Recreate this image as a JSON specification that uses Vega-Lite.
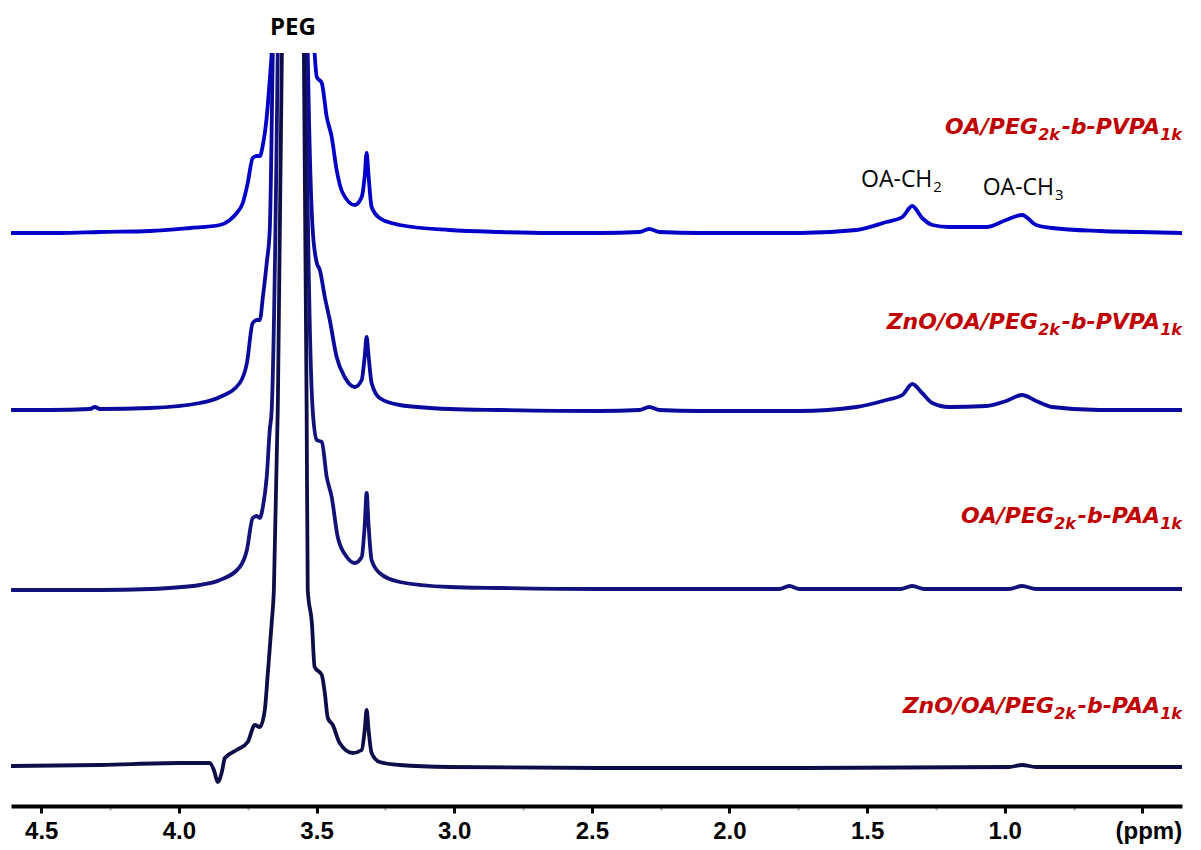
{
  "$schema": "https://vega.github.io/schema/vega-lite/v6.json",
  "width": 1171,
  "height": 753,
  "autosize": {"type": "none"},
  "padding": {"left": 11, "top": 53, "right": 19, "bottom": 44},
  "background": "white",
  "config": {"view": {"stroke": null}},
  "datasets": {
    "spectra": [
      {"trace":"t1","ppm":4.606,"y":573},{"trace":"t1","ppm":4.432,"y":573},{"trace":"t1","ppm":4.287,"y":574},{"trace":"t1","ppm":4.105,"y":575},{"trace":"t1","ppm":3.960,"y":578},{"trace":"t1","ppm":3.851,"y":581},{"trace":"t1","ppm":3.815,"y":586},{"trace":"t1","ppm":3.790,"y":593},{"trace":"t1","ppm":3.768,"y":603},{"trace":"t1","ppm":3.750,"y":623},{"trace":"t1","ppm":3.732,"y":648},{"trace":"t1","ppm":3.717,"y":650},{"trace":"t1","ppm":3.706,"y":650},{"trace":"t1","ppm":3.695,"y":661},{"trace":"t1","ppm":3.681,"y":689},{"trace":"t1","ppm":3.670,"y":726},{"trace":"t1","ppm":3.663,"y":753},{"trace":"t1","ppm":3.586,"y":2200},{"trace":"t1","ppm":3.507,"y":753},{"trace":"t1","ppm":3.499,"y":729},{"trace":"t1","ppm":3.481,"y":723},{"trace":"t1","ppm":3.463,"y":689},{"trace":"t1","ppm":3.445,"y":669},{"trace":"t1","ppm":3.427,"y":636},{"trace":"t1","ppm":3.405,"y":613},{"trace":"t1","ppm":3.361,"y":601},{"trace":"t1","ppm":3.336,"y":609},{"trace":"t1","ppm":3.325,"y":630},{"trace":"t1","ppm":3.318,"y":653},{"trace":"t1","ppm":3.311,"y":630},{"trace":"t1","ppm":3.300,"y":599},{"trace":"t1","ppm":3.271,"y":588},{"trace":"t1","ppm":3.198,"y":581},{"trace":"t1","ppm":3.017,"y":576},{"trace":"t1","ppm":2.835,"y":574},{"trace":"t1","ppm":2.654,"y":573},{"trace":"t1","ppm":2.472,"y":573},{"trace":"t1","ppm":2.327,"y":574},{"trace":"t1","ppm":2.291,"y":577},{"trace":"t1","ppm":2.254,"y":574},{"trace":"t1","ppm":2.109,"y":573},{"trace":"t1","ppm":1.746,"y":573},{"trace":"t1","ppm":1.539,"y":576},{"trace":"t1","ppm":1.430,"y":584},{"trace":"t1","ppm":1.372,"y":589},{"trace":"t1","ppm":1.336,"y":600},{"trace":"t1","ppm":1.300,"y":588},{"trace":"t1","ppm":1.263,"y":581},{"trace":"t1","ppm":1.202,"y":579},{"trace":"t1","ppm":1.067,"y":579},{"trace":"t1","ppm":0.995,"y":586},{"trace":"t1","ppm":0.937,"y":591},{"trace":"t1","ppm":0.886,"y":581},{"trace":"t1","ppm":0.828,"y":578},{"trace":"t1","ppm":0.657,"y":575},{"trace":"t1","ppm":0.512,"y":574},{"trace":"t1","ppm":0.356,"y":573},

      {"trace":"t2","ppm":4.606,"y":396},{"trace":"t2","ppm":4.468,"y":396},{"trace":"t2","ppm":4.323,"y":397},{"trace":"t2","ppm":4.305,"y":399},{"trace":"t2","ppm":4.287,"y":397},{"trace":"t2","ppm":4.105,"y":398},{"trace":"t2","ppm":3.924,"y":403},{"trace":"t2","ppm":3.851,"y":409},{"trace":"t2","ppm":3.779,"y":423},{"trace":"t2","ppm":3.753,"y":443},{"trace":"t2","ppm":3.732,"y":483},{"trace":"t2","ppm":3.717,"y":486},{"trace":"t2","ppm":3.706,"y":486},{"trace":"t2","ppm":3.695,"y":509},{"trace":"t2","ppm":3.681,"y":543},{"trace":"t2","ppm":3.670,"y":576},{"trace":"t2","ppm":3.659,"y":753},{"trace":"t2","ppm":3.586,"y":2600},{"trace":"t2","ppm":3.532,"y":753},{"trace":"t2","ppm":3.514,"y":576},{"trace":"t2","ppm":3.499,"y":543},{"trace":"t2","ppm":3.488,"y":536},{"trace":"t2","ppm":3.470,"y":509},{"trace":"t2","ppm":3.452,"y":486},{"trace":"t2","ppm":3.427,"y":449},{"trace":"t2","ppm":3.398,"y":429},{"trace":"t2","ppm":3.361,"y":419},{"trace":"t2","ppm":3.336,"y":426},{"trace":"t2","ppm":3.325,"y":450},{"trace":"t2","ppm":3.318,"y":469},{"trace":"t2","ppm":3.311,"y":450},{"trace":"t2","ppm":3.300,"y":423},{"trace":"t2","ppm":3.271,"y":408},{"trace":"t2","ppm":3.198,"y":401},{"trace":"t2","ppm":3.017,"y":397},{"trace":"t2","ppm":2.835,"y":396},{"trace":"t2","ppm":2.472,"y":395},{"trace":"t2","ppm":2.327,"y":396},{"trace":"t2","ppm":2.291,"y":399},{"trace":"t2","ppm":2.254,"y":396},{"trace":"t2","ppm":2.109,"y":395},{"trace":"t2","ppm":1.746,"y":395},{"trace":"t2","ppm":1.539,"y":399},{"trace":"t2","ppm":1.430,"y":406},{"trace":"t2","ppm":1.372,"y":411},{"trace":"t2","ppm":1.336,"y":422},{"trace":"t2","ppm":1.300,"y":413},{"trace":"t2","ppm":1.263,"y":403},{"trace":"t2","ppm":1.202,"y":399},{"trace":"t2","ppm":1.067,"y":400},{"trace":"t2","ppm":0.995,"y":405},{"trace":"t2","ppm":0.937,"y":411},{"trace":"t2","ppm":0.886,"y":405},{"trace":"t2","ppm":0.828,"y":399},{"trace":"t2","ppm":0.657,"y":396},{"trace":"t2","ppm":0.356,"y":396},

      {"trace":"t3","ppm":4.606,"y":216},{"trace":"t3","ppm":4.287,"y":216},{"trace":"t3","ppm":4.105,"y":217},{"trace":"t3","ppm":3.924,"y":221},{"trace":"t3","ppm":3.851,"y":226},{"trace":"t3","ppm":3.779,"y":239},{"trace":"t3","ppm":3.753,"y":256},{"trace":"t3","ppm":3.732,"y":288},{"trace":"t3","ppm":3.717,"y":290},{"trace":"t3","ppm":3.706,"y":288},{"trace":"t3","ppm":3.695,"y":299},{"trace":"t3","ppm":3.681,"y":329},{"trace":"t3","ppm":3.670,"y":376},{"trace":"t3","ppm":3.663,"y":396},{"trace":"t3","ppm":3.641,"y":753},{"trace":"t3","ppm":3.586,"y":3000},{"trace":"t3","ppm":3.539,"y":753},{"trace":"t3","ppm":3.514,"y":396},{"trace":"t3","ppm":3.499,"y":366},{"trace":"t3","ppm":3.481,"y":364},{"trace":"t3","ppm":3.463,"y":329},{"trace":"t3","ppm":3.445,"y":309},{"trace":"t3","ppm":3.423,"y":269},{"trace":"t3","ppm":3.390,"y":249},{"trace":"t3","ppm":3.361,"y":243},{"trace":"t3","ppm":3.336,"y":249},{"trace":"t3","ppm":3.325,"y":281},{"trace":"t3","ppm":3.318,"y":313},{"trace":"t3","ppm":3.311,"y":281},{"trace":"t3","ppm":3.300,"y":246},{"trace":"t3","ppm":3.271,"y":233},{"trace":"t3","ppm":3.198,"y":224},{"trace":"t3","ppm":3.017,"y":219},{"trace":"t3","ppm":2.835,"y":218},{"trace":"t3","ppm":2.472,"y":217},{"trace":"t3","ppm":1.819,"y":217},{"trace":"t3","ppm":1.782,"y":220},{"trace":"t3","ppm":1.746,"y":217},{"trace":"t3","ppm":1.379,"y":217},{"trace":"t3","ppm":1.336,"y":220},{"trace":"t3","ppm":1.292,"y":217},{"trace":"t3","ppm":0.984,"y":217},{"trace":"t3","ppm":0.937,"y":220},{"trace":"t3","ppm":0.886,"y":217},{"trace":"t3","ppm":0.356,"y":217},

      {"trace":"t4","ppm":4.606,"y":40},{"trace":"t4","ppm":4.287,"y":41},{"trace":"t4","ppm":3.997,"y":43},{"trace":"t4","ppm":3.888,"y":43},{"trace":"t4","ppm":3.873,"y":36},{"trace":"t4","ppm":3.859,"y":24},{"trace":"t4","ppm":3.844,"y":34},{"trace":"t4","ppm":3.833,"y":48},{"trace":"t4","ppm":3.790,"y":56},{"trace":"t4","ppm":3.750,"y":64},{"trace":"t4","ppm":3.724,"y":81},{"trace":"t4","ppm":3.706,"y":79},{"trace":"t4","ppm":3.688,"y":96},{"trace":"t4","ppm":3.677,"y":133},{"trace":"t4","ppm":3.663,"y":183},{"trace":"t4","ppm":3.655,"y":216},{"trace":"t4","ppm":3.641,"y":396},{"trace":"t4","ppm":3.626,"y":753},{"trace":"t4","ppm":3.586,"y":3500},{"trace":"t4","ppm":3.546,"y":753},{"trace":"t4","ppm":3.536,"y":396},{"trace":"t4","ppm":3.532,"y":216},{"trace":"t4","ppm":3.517,"y":183},{"trace":"t4","ppm":3.507,"y":139},{"trace":"t4","ppm":3.481,"y":131},{"trace":"t4","ppm":3.470,"y":113},{"trace":"t4","ppm":3.459,"y":88},{"trace":"t4","ppm":3.441,"y":81},{"trace":"t4","ppm":3.416,"y":63},{"trace":"t4","ppm":3.369,"y":53},{"trace":"t4","ppm":3.336,"y":56},{"trace":"t4","ppm":3.325,"y":76},{"trace":"t4","ppm":3.318,"y":96},{"trace":"t4","ppm":3.311,"y":76},{"trace":"t4","ppm":3.300,"y":53},{"trace":"t4","ppm":3.271,"y":44},{"trace":"t4","ppm":3.198,"y":41},{"trace":"t4","ppm":3.017,"y":39},{"trace":"t4","ppm":2.472,"y":38},{"trace":"t4","ppm":1.746,"y":38},{"trace":"t4","ppm":0.984,"y":39},{"trace":"t4","ppm":0.937,"y":41},{"trace":"t4","ppm":0.886,"y":39},{"trace":"t4","ppm":0.356,"y":39}
    ],
    "samples": [
      {"prefix":"OA/PEG","sub1":"2k","middle":"-b-PVPA","sub2":"1k","group":"PVPA","ppm":0.356,"y":672},
      {"prefix":"ZnO/OA/PEG","sub1":"2k","middle":"-b-PVPA","sub2":"1k","group":"PVPA","ppm":0.356,"y":477},
      {"prefix":"OA/PEG","sub1":"2k","middle":"-b-PAA","sub2":"1k","group":"PAA","ppm":0.356,"y":283},
      {"prefix":"ZnO/OA/PEG","sub1":"2k","middle":"-b-PAA","sub2":"1k","group":"PAA","ppm":0.356,"y":93}
    ],
    "peaks": [
      {"text":"OA-CH","sub":"2","ppm":1.263,"y":619},
      {"text":"OA-CH","sub":"3","ppm":0.821,"y":611}
    ],
    "main": [
      {"text":"PEG","ppm":3.586,"y":771}
    ]
  },
  "layer": [
    {
      "data": {"name": "spectra"},
      "mark": {"type": "line", "clip": true, "strokeWidth": 3.8, "interpolate": "monotone", "strokeJoin": "round", "strokeCap": "round"},
      "encoding": {
        "x": {
          "field": "ppm", "type": "quantitative",
          "scale": {"domain": [0.356, 4.61], "reverse": true, "nice": false, "zero": false},
          "axis": {
            "title": null,
            "values": [4.5,4.25,4,3.75,3.5,3.25,3,2.75,2.5,2.25,2,1.75,1.5,1.25,1,0.75,0.5],
            "labelExpr": "datum.value == 0.5 ? '(ppm)' : ((datum.value * 2) % 1 == 0 ? format(datum.value, '.1f') : '')",
            "labelFont": "Liberation Sans",
            "labelFontWeight": "bold",
            "labelFontSize": 24,
            "labelColor": "black",
            "labelPadding": 6,
            "labelOverlap": false,
            "labelBound": false,
            "labelOffset": {"condition": {"test": "datum.value == 0.5", "value": 6}, "value": 0},
            "domainColor": "black",
            "domainWidth": 4,
            "grid": false,
            "tickColor": {"condition": {"test": "(datum.value * 2) % 1 != 0", "value": "#aaaaaa"}, "value": "black"},
            "tickWidth": {"condition": {"test": "(datum.value * 2) % 1 != 0", "value": 2}, "value": 3},
            "tickSize": {"condition": {"test": "(datum.value * 2) % 1 != 0", "value": 4}, "value": 7}
          }
        },
        "y": {
          "field": "y", "type": "quantitative",
          "scale": {"domain": [0, 753], "nice": false, "zero": false},
          "axis": null
        },
        "color": {
          "field": "trace", "type": "nominal",
          "scale": {"domain": ["t1","t2","t3","t4"], "range": ["#0000c8","#0a0a9e","#12127a","#0d0d48"]},
          "legend": null
        }
      }
    },
    {
      "data": {"name": "samples"},
      "mark": {"type": "text", "align": "right", "baseline": "alphabetic", "dy": 6, "font": "DejaVu Sans", "fontWeight": "bold", "fontStyle": "italic", "fontSize": 16, "color": "#c00000"},
      "encoding": {
        "x": {"field": "ppm", "type": "quantitative"},
        "y": {"field": "y", "type": "quantitative"},
        "text": {"field": "sub2"}
      }
    },
    {
      "data": {"name": "samples"},
      "mark": {"type": "text", "align": "right", "baseline": "alphabetic", "dx": -22, "font": "DejaVu Sans", "fontWeight": "bold", "fontStyle": "italic", "fontSize": 22, "color": "#c00000"},
      "encoding": {
        "x": {"field": "ppm", "type": "quantitative"},
        "y": {"field": "y", "type": "quantitative"},
        "text": {"field": "middle"}
      }
    },
    {
      "data": {"name": "samples"},
      "transform": [{"filter": "datum.group == 'PVPA'"}],
      "mark": {"type": "text", "align": "right", "baseline": "alphabetic", "dx": -122, "dy": 6, "font": "DejaVu Sans", "fontWeight": "bold", "fontStyle": "italic", "fontSize": 16, "color": "#c00000"},
      "encoding": {
        "x": {"field": "ppm", "type": "quantitative"},
        "y": {"field": "y", "type": "quantitative"},
        "text": {"field": "sub1"}
      }
    },
    {
      "data": {"name": "samples"},
      "transform": [{"filter": "datum.group == 'PAA'"}],
      "mark": {"type": "text", "align": "right", "baseline": "alphabetic", "dx": -106, "dy": 6, "font": "DejaVu Sans", "fontWeight": "bold", "fontStyle": "italic", "fontSize": 16, "color": "#c00000"},
      "encoding": {
        "x": {"field": "ppm", "type": "quantitative"},
        "y": {"field": "y", "type": "quantitative"},
        "text": {"field": "sub1"}
      }
    },
    {
      "data": {"name": "samples"},
      "transform": [{"filter": "datum.group == 'PVPA'"}],
      "mark": {"type": "text", "align": "right", "baseline": "alphabetic", "dx": -144, "font": "DejaVu Sans", "fontWeight": "bold", "fontStyle": "italic", "fontSize": 22, "color": "#c00000"},
      "encoding": {
        "x": {"field": "ppm", "type": "quantitative"},
        "y": {"field": "y", "type": "quantitative"},
        "text": {"field": "prefix"}
      }
    },
    {
      "data": {"name": "samples"},
      "transform": [{"filter": "datum.group == 'PAA'"}],
      "mark": {"type": "text", "align": "right", "baseline": "alphabetic", "dx": -128, "font": "DejaVu Sans", "fontWeight": "bold", "fontStyle": "italic", "fontSize": 22, "color": "#c00000"},
      "encoding": {
        "x": {"field": "ppm", "type": "quantitative"},
        "y": {"field": "y", "type": "quantitative"},
        "text": {"field": "prefix"}
      }
    },
    {
      "data": {"name": "peaks"},
      "mark": {"type": "text", "align": "right", "baseline": "alphabetic", "font": "Open Sans", "fontSize": 23, "color": "black"},
      "encoding": {
        "x": {"field": "ppm", "type": "quantitative"},
        "y": {"field": "y", "type": "quantitative"},
        "text": {"field": "text"}
      }
    },
    {
      "data": {"name": "peaks"},
      "mark": {"type": "text", "align": "left", "baseline": "alphabetic", "dx": 1, "dy": 5, "font": "Open Sans", "fontSize": 15, "color": "black"},
      "encoding": {
        "x": {"field": "ppm", "type": "quantitative"},
        "y": {"field": "y", "type": "quantitative"},
        "text": {"field": "sub"}
      }
    },
    {
      "data": {"name": "main"},
      "mark": {"type": "text", "align": "center", "baseline": "alphabetic", "font": "Open Sans", "fontWeight": "bold", "fontSize": 24, "color": "black"},
      "encoding": {
        "x": {"field": "ppm", "type": "quantitative"},
        "y": {"field": "y", "type": "quantitative"},
        "text": {"field": "text"}
      }
    }
  ]
}
